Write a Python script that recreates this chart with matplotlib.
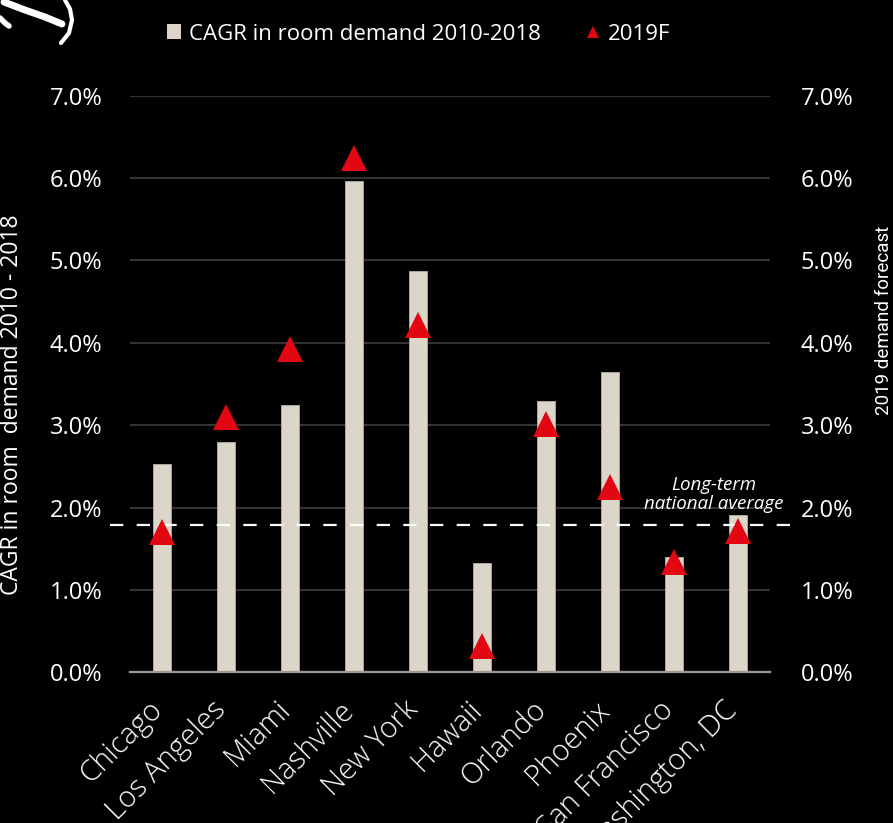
import matplotlib
matplotlib.use("Agg")
import matplotlib.pyplot as plt
import numpy as np
from matplotlib.lines import Line2D
from matplotlib.patches import Patch
from matplotlib.transforms import ScaledTranslation

# data (percent)
cities = ["Chicago", "Los Angeles", "Miami", "Nashville", "New York",
          "Hawaii", "Orlando", "Phoenix", "San Francisco", "Washington, DC"]
cagr_2010_2018 = [2.53, 2.79, 3.24, 5.96, 4.87, 1.33, 3.29, 3.64, 1.40, 1.91]
forecast_2019 = [1.70, 3.10, 3.92, 6.24, 4.22, 0.32, 3.01, 2.25, 1.34, 1.72]
national_avg = 1.79
y_ticks = [0, 1, 2, 3, 4, 5, 6, 7]

BEIGE = "#DCD6C9"
RED = "#E30613"
W, H = 893, 823

plt.rcParams["font.family"] = ["Open Sans", "DejaVu Sans"]
plt.rcParams["lines.scale_dashes"] = False

fig = plt.figure(figsize=(W / 100, H / 100), dpi=100, facecolor="black")
ax = fig.add_axes([130 / W, 1 - 672.3 / H, 640 / W, 576.6 / H])
ax.set_facecolor("black")

x = np.arange(len(cities))
ax.bar(x, cagr_2010_2018, width=0.286, color=BEIGE, edgecolor="#aaa59a",
       linewidth=0.7, zorder=2)
ax.plot([-0.81, 9.81], [national_avg, national_avg], color="white", lw=1.6,
        dashes=(9.6, 9.6), clip_on=False, zorder=3)
ax.plot(x, forecast_2019, linestyle="none", marker="^", markersize=18.5,
        color=RED, markeredgewidth=0, zorder=4, clip_on=False)

ax.set_xlim(-0.5, 9.5)
ax.set_ylim(0, 7)
ax.set_yticks(y_ticks)
ax.set_yticklabels([f"{v:.1f}%" for v in y_ticks])
ax.yaxis.grid(True, color="#333333", lw=1.5, zorder=0)
ax.set_axisbelow(True)
for s in ["top", "right", "left"]:
    ax.spines[s].set_visible(False)
ax.spines["bottom"].set_color("#9a9a9a")
ax.spines["bottom"].set_linewidth(1.6)
ax.tick_params(axis="y", length=0, pad=20, labelsize=17, labelcolor="white")
ax.set_xticks(x)
ax.set_xticklabels(cities, rotation=45, ha="right", va="baseline",
                   rotation_mode="anchor", fontweight="light")
ax.tick_params(axis="x", length=0, pad=28, labelsize=21, labelcolor="white")
shift = ScaledTranslation(1 / 100, 0, fig.dpi_scale_trans)
for lbl in ax.get_xticklabels():
    lbl.set_transform(lbl.get_transform() + shift)

ax2 = ax.twinx()
ax2.set_ylim(0, 7)
ax2.set_yticks(y_ticks)
ax2.set_yticklabels([f"{v:.1f}%" for v in y_ticks])
ax2.tick_params(axis="y", length=0, pad=22, labelsize=17, labelcolor="white")
for s in ax2.spines.values():
    s.set_visible(False)

ax.text(8.625, 2.16, "Long-term\nnational average", ha="center", va="center",
        style="italic", fontsize=13.5, color="white", linespacing=1.1,
        zorder=5)

fig.text(12 / W, 1 - 405 / H, "CAGR in room  demand 2010 - 2018",
         rotation=90, ha="center", va="center", color="white", fontsize=16.5)
fig.text(884 / W, 1 - 320 / H, "2019 demand forecast", rotation=90,
         ha="center", va="center", color="white", fontsize=13.5,
         family=["Roboto", "DejaVu Sans"])

handles = [Patch(facecolor=BEIGE, edgecolor="none"),
           Line2D([], [], linestyle="none", marker="^", markersize=8,
                  color=RED, markeredgewidth=0)]
fig.legend(handles, ["CAGR in room demand 2010-2018", "2019F"], ncol=2,
           loc="center", bbox_to_anchor=(0.4685, 1 - 34 / H), frameon=False,
           fontsize=16, labelcolor="white", handlelength=0.65,
           handleheight=0.65, handletextpad=0.35, columnspacing=2.0,
           borderpad=0)


# cropped hand-drawn stroke in the top-left corner
def px(pts):
    return [p[0] / W for p in pts], [1 - p[1] / H for p in pts]


strokes = [([(4, 2), (25, 10), (45, 17), (62, 24)], 5),
           ([(0, 18), (5, 23), (9, 26)], 4),
           ([(65, 0), (70, 9), (72, 20), (69, 33), (61, 43)], 3)]
for pts, lw in strokes:
    xs, ys = px(pts)
    fig.add_artist(Line2D(xs, ys, color="white", lw=lw, solid_capstyle="round",
                          transform=fig.transFigure))

fig.savefig("out.png", dpi=100, facecolor="black")
